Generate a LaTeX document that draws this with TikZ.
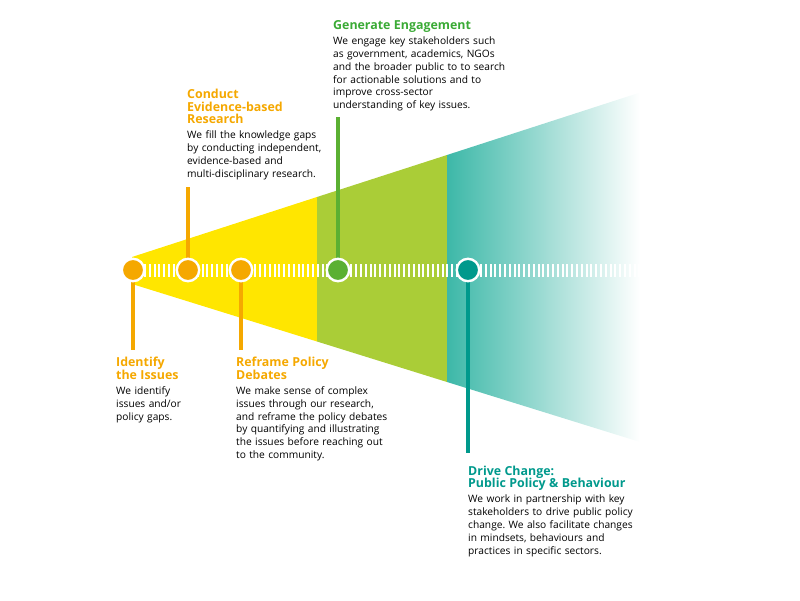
\documentclass[tikz,border=0pt]{standalone}
\usepackage{fontspec}
\setmainfont{Open Sans}
\usetikzlibrary{backgrounds}

\definecolor{ipsorange}{HTML}{F5A800}
\definecolor{ipsyellow}{HTML}{FFE600}
\definecolor{ipslime}{HTML}{AACD37}
\definecolor{ipsgreen}{HTML}{5BB032}
\definecolor{ipstitlegreen}{HTML}{3AAA35}
\definecolor{ipsteal}{HTML}{00998C}
\definecolor{ipstealcone}{HTML}{3DB8A8}

\newcommand{\ipshead}[2]{\textcolor{#1}{\bfseries\fontsize{12.4}{13}\selectfont #2}\\[2.2pt]}

\begin{document}
\frenchspacing
\begin{tikzpicture}[x=1pt,y=-1pt,
  stage/.style={circle,draw=white,line width=2.4pt,minimum size=22.4pt,inner sep=0pt},
  stem/.style={line width=4pt},
  blurb/.style={anchor=north west,inner sep=0pt,text width=220pt,align=left,
    font=\fontsize{10.2}{12.8}\selectfont}]

  \useasboundingbox (0,0) rectangle (800,600);

%% stages
  \node[stage,fill=ipsorange] (issues) at (133,270) {};
  \node[stage,fill=ipsorange] (research) at (188,270) {};
  \node[stage,fill=ipsorange] (reframe) at (241,270) {};
  \node[stage,fill=ipsgreen] (engage) at (338,270) {};
  \node[stage,fill=ipsteal] (change) at (468,270) {};

  \coordinate (issues-end) at (133,350);
  \coordinate (research-end) at (188,187);
  \coordinate (reframe-end) at (241,350);
  \coordinate (engage-end) at (338,117);
  \coordinate (change-end) at (468,453);

  \begin{pgfonlayer}{background}
%% cone
  \fill[ipsyellow] (132,257) -- (317,197) -- (317,341.5) -- (132,284) -- cycle;
  \fill[ipslime] (317,197) -- (447,155) -- (447,382) -- (317,341.5) -- cycle;
  \shade[left color=ipstealcone,right color=white]
    (447,155) -- (640,92.5) -- (640,442) -- (447,382) -- cycle;

%% timeline
  \foreach \x in {145,149.8,...,643}
    \fill[white] (\x-1,264) rectangle (\x+1,277);

  \draw[stem,ipsorange] (issues) -- (issues-end);
  \draw[stem,ipsorange] (research) -- (research-end);
  \draw[stem,ipsorange] (reframe) -- (reframe-end);
  \draw[stem,ipsgreen] (engage) -- (engage-end);
  \draw[stem,ipsteal] (change) -- (change-end);
  \end{pgfonlayer}

%% texts
  \node[blurb] (research-text) at (187,88.5)
    {\ipshead{ipsorange}{Conduct\\ Evidence-based\\ Research}
     We fill the knowledge gaps\\ by conducting independent,\\ evidence-based and\\ multi-disciplinary research.};

  \node[blurb] (engage-text) at (333,20.5)
    {\ipshead{ipstitlegreen}{Generate Engagement}
     We engage key stakeholders such\\ as government, academics, NGOs\\ and the broader public to to search\\
     for actionable solutions and to\\ improve cross-sector\\ understanding of key issues.};

  \node[blurb] (issues-text) at (116,357)
    {\ipshead{ipsorange}{Identify\\ the Issues}
     We identify\\ issues and/or\\ policy gaps.};

  \node[blurb] (reframe-text) at (236,357)
    {\ipshead{ipsorange}{Reframe Policy\\ Debates}
     We make sense of complex\\ issues through our research,\\ and reframe the policy debates\\
     by quantifying and illustrating\\ the issues before reaching out\\ to the community.};

  \node[blurb] (change-text) at (468,465.5)
    {\ipshead{ipsteal}{Drive Change:\\ Public Policy \& Behaviour}
     We work in partnership with key\\ stakeholders to drive public policy\\ change. We also facilitate changes\\
     in mindsets, behaviours and\\ practices in specific sectors.};
\end{tikzpicture}
\end{document}
